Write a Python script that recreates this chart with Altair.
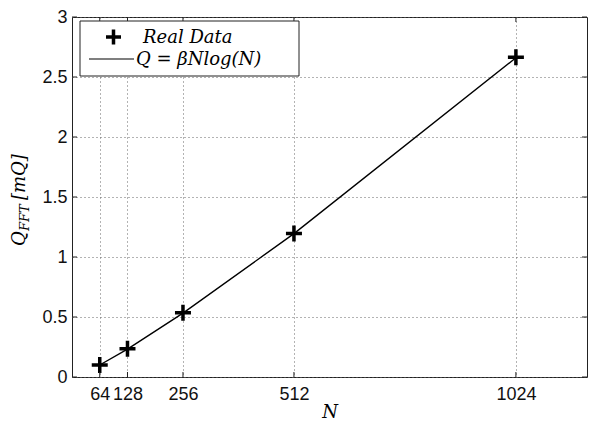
import altair as alt
import pandas as pd

# ---- data ----
N_vals = [64, 128, 256, 512, 1024]
q_real = [0.10, 0.235, 0.535, 1.195, 2.665]
q_fit = [0.10, 0.233, 0.532, 1.195, 2.66]
x_ticks = [64, 128, 256, 512, 1024]
y_ticks = [0, 0.5, 1, 1.5, 2, 2.5, 3]
x_domain = [0, 1188]
y_domain = [0, 3]
legend_labels = ["Real Data", "Q = \u03b2Nlog(N)"]
y_title_parts = ["Q", "FFT", "[mQ]"]
x_title = "N"

W, H = 515, 360
TICK = 5
SERIF = "DejaVu Serif"
SANS = "Liberation Sans"
CROSS = "M-1,0L1,0M0,-1L0,1"

df = pd.DataFrame({"N": N_vals, "real": q_real, "fit": q_fit})
xt = pd.DataFrame({"v": x_ticks})
yt = pd.DataFrame({"v": y_ticks})

xs = alt.Scale(domain=x_domain, nice=False, zero=False)
ys = alt.Scale(domain=y_domain, nice=False, zero=False)

x_axis = alt.Axis(values=x_ticks, title=x_title, grid=True, labelOverlap=False,
                  labelFlush=False, labelBound=False, labelPadding=8,
                  titlePadding=0, labelExpr="'' + datum.value")
y_axis = alt.Axis(values=y_ticks, title=None, grid=True, labelOverlap=False,
                  labelFlush=False, labelBound=False, labelPadding=5,
                  labelExpr="'' + datum.value")

line = alt.Chart(df).mark_line(color="black", strokeWidth=1.4).encode(
    x=alt.X("N:Q", scale=xs, axis=x_axis),
    y=alt.Y("fit:Q", scale=ys, axis=y_axis),
)
points = alt.Chart(df).mark_point(shape=CROSS, size=256, strokeWidth=3.5,
                                  color="black", filled=False, opacity=1).encode(
    x=alt.X("N:Q", scale=xs),
    y=alt.Y("real:Q", scale=ys),
)

# inward ticks on all four sides
tick_b = alt.Chart(xt).mark_rule(color="#222", strokeWidth=1).encode(
    x=alt.X("v:Q", scale=xs), y=alt.value(H), y2=alt.value(H - TICK))
tick_t = alt.Chart(xt).mark_rule(color="#222", strokeWidth=1).encode(
    x=alt.X("v:Q", scale=xs), y=alt.value(0), y2=alt.value(TICK))
tick_l = alt.Chart(yt).mark_rule(color="#222", strokeWidth=1).encode(
    y=alt.Y("v:Q", scale=ys), x=alt.value(0), x2=alt.value(TICK))
tick_r = alt.Chart(yt).mark_rule(color="#222", strokeWidth=1).encode(
    y=alt.Y("v:Q", scale=ys), x=alt.value(W), x2=alt.value(W - TICK))

# legend box
one = pd.DataFrame({"a": [0]})
leg_box = alt.Chart(one).mark_rect(fill="white", stroke="#222", strokeWidth=1).encode(
    x=alt.value(8), x2=alt.value(227), y=alt.value(4), y2=alt.value(59))
leg_pt = alt.Chart(one).mark_point(shape=CROSS, size=225, strokeWidth=3.5,
                                   color="black", filled=False, opacity=1).encode(
    x=alt.value(41.5), y=alt.value(20))
leg_line = alt.Chart(one).mark_rule(color="black", strokeWidth=1.2).encode(
    x=alt.value(17), x2=alt.value(62), y=alt.value(42))
leg_t1 = alt.Chart(pd.DataFrame({"t": [legend_labels[0]]})).mark_text(
    font=SERIF, fontStyle="italic", fontSize=18, align="left", baseline="alphabetic",
    color="black").encode(text="t:N", x=alt.value(71), y=alt.value(26))
leg_t2 = alt.Chart(pd.DataFrame({"t": [legend_labels[1]]})).mark_text(
    font=SERIF, fontStyle="italic", fontSize=18, align="left", baseline="alphabetic",
    color="black").encode(text="t:N", x=alt.value(64), y=alt.value(48))

# y axis title Q_{FFT} [mQ], rotated
yt1 = alt.Chart(pd.DataFrame({"t": [y_title_parts[0]]})).mark_text(
    font=SERIF, fontStyle="italic", fontSize=18, angle=270, align="left",
    baseline="alphabetic", color="black").encode(
    text="t:N", x=alt.value(-47), y=alt.value(229))
yt2 = alt.Chart(pd.DataFrame({"t": [y_title_parts[1]]})).mark_text(
    font=SERIF, fontStyle="italic", fontSize=13, angle=270, align="left",
    baseline="alphabetic", color="black").encode(
    text="t:N", x=alt.value(-43), y=alt.value(214))
yt3 = alt.Chart(pd.DataFrame({"t": [y_title_parts[2]]})).mark_text(
    font=SERIF, fontStyle="italic", fontSize=18, angle=270, align="left",
    baseline="alphabetic", color="black").encode(
    text="t:N", x=alt.value(-47), y=alt.value(183))

chart = alt.layer(
    line, points, tick_b, tick_t, tick_l, tick_r,
    leg_box, leg_pt, leg_line, leg_t1, leg_t2, yt1, yt2, yt3,
).properties(
    width=W, height=H,
    autosize=alt.AutoSizeParams(type="none"),
    padding={"left": 64, "top": 9, "right": 1, "bottom": 47},
    background="white",
).configure_view(
    stroke="#222", strokeWidth=1
).configure_axis(
    domain=False, ticks=False,
    gridDash=[1, 3], gridColor="#666", gridWidth=1, gridOpacity=1,
    labelFont=SANS, labelFontSize=18, labelColor="#111",
    titleFont=SERIF, titleFontStyle="italic", titleFontWeight="normal",
    titleFontSize=18, titleColor="black",
)

chart.save("out.html", embed_options={"renderer": "svg", "actions": False})
